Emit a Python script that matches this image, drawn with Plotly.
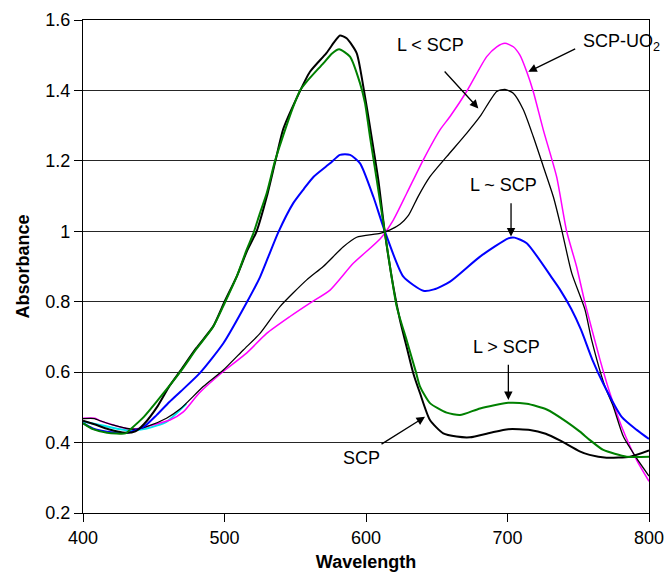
import plotly.graph_objects as go

# ---- data ----
wl_scp = [400, 408, 418, 430, 437, 443, 453, 461, 469, 480, 492, 500, 509, 516, 522.7, 530, 536, 541.5,
          551, 560.4, 572, 578, 581.6, 586.3, 593.4, 598.1, 602.8, 608.7, 613.4, 619.3, 624, 628.7, 633.4,
          638.2, 645.2, 654.6, 664, 673.5, 688, 700.6, 715.9, 727, 737, 751, 758, 770, 786.6, 800]
abs_scp = [0.462, 0.452, 0.438, 0.428, 0.432, 0.452, 0.505, 0.56, 0.605, 0.668, 0.73, 0.80, 0.875, 0.945, 1.0,
           1.1, 1.2, 1.29, 1.378, 1.453, 1.506, 1.54, 1.556, 1.548, 1.506, 1.411, 1.297, 1.146, 0.994,
           0.843, 0.748, 0.672, 0.597, 0.54, 0.464, 0.426, 0.417, 0.415, 0.428, 0.438, 0.436, 0.425, 0.406,
           0.375, 0.365, 0.357, 0.36, 0.378]

wl_lgt = [400, 407, 417, 430, 433, 443, 453, 469, 480, 492, 500, 508.6, 515.6, 520.4, 525, 529.8, 535.7, 540.4,
          548.6, 553.4, 558.1, 569.8, 576, 581, 588.7, 595.8, 599.3, 602.8, 607.6, 613.4, 621.7, 628.7, 635.3,
          638.2, 645.2, 657, 666.4, 680.6, 700.6, 713.6, 727.7, 741.8, 751.2, 758.3, 767.7, 784.2, 800]
abs_lgt = [0.455, 0.438, 0.428, 0.426, 0.436, 0.473, 0.521, 0.602, 0.665, 0.729, 0.795, 0.871, 0.947, 0.994,
           1.051, 1.108, 1.2, 1.259, 1.354, 1.4, 1.425, 1.477, 1.505, 1.517, 1.496, 1.42, 1.364, 1.269, 1.146,
           0.994, 0.786, 0.691, 0.6, 0.559, 0.512, 0.485, 0.478, 0.497, 0.513, 0.51, 0.494, 0.459, 0.431,
           0.407, 0.379, 0.36, 0.36]

wl_leq = [400, 407, 417, 431, 443, 452, 461, 469, 482.7, 499.2, 515.6, 525.1, 531, 538, 548.6, 556, 563, 574.6,
          581.6, 588.7, 595.8, 605.2, 613.4, 626.4, 640.5, 648, 659.4, 680.6, 700.6, 705, 713.6, 732.4, 737,
          745, 752, 760, 768, 780.7, 791.3, 800]
abs_leq = [0.455, 0.44, 0.431, 0.428, 0.445, 0.478, 0.515, 0.545, 0.598, 0.682, 0.797, 0.87, 0.928, 0.997,
           1.08, 1.12, 1.155, 1.193, 1.217, 1.217, 1.193, 1.098, 0.999, 0.871, 0.831, 0.835, 0.857, 0.928,
           0.98, 0.982, 0.966, 0.862, 0.835, 0.78, 0.72, 0.635, 0.565, 0.473, 0.436, 0.41]

wl_llt = [400, 408, 412, 421, 431, 438, 445, 459, 468.6, 485, 499.2, 513.3, 525.1, 539.2, 558.1, 569.8, 584,
          593.4, 609.9, 617, 624, 630, 637, 645.2, 657, 671.1, 680.6, 692.4, 698.2, 704.1, 711.2, 718.2, 725.3,
          732.4, 738.3, 745.4, 754.8, 759.5, 768.9, 774.8, 781.9, 791.3, 800]
abs_llt = [0.468, 0.468, 0.462, 0.45, 0.44, 0.438, 0.445, 0.469, 0.495, 0.559, 0.606, 0.663, 0.71, 0.786,
           0.862, 0.9, 0.956, 0.983, 0.994, 1.004, 1.02, 1.045, 1.1, 1.155, 1.212, 1.278, 1.326, 1.397, 1.403,
           1.392, 1.345, 1.269, 1.184, 1.098, 1.004, 0.881, 0.777, 0.691, 0.559, 0.502, 0.417, 0.355, 0.305]

wl_uo2 = [400, 408.5, 412, 421.4, 430.9, 437.9, 452, 461.5, 470.9, 482, 500.4, 515.6, 529.8, 546.3, 560.4,
          574.6, 591, 609.9, 619.3, 628.8, 640.5, 652.3, 659.4, 671.1, 685.3, 692.4, 698.2, 704.1, 708.8,
          713.6, 718.2, 725.3, 734.7, 741.8, 748.8, 754.8, 765.4, 772.4, 780.7, 791.3, 800]
abs_uo2 = [0.469, 0.469, 0.462, 0.45, 0.44, 0.439, 0.453, 0.464, 0.487, 0.54, 0.606, 0.654, 0.71, 0.758,
           0.796, 0.833, 0.909, 0.978, 1.032, 1.108, 1.203, 1.288, 1.326, 1.397, 1.496, 1.524, 1.534, 1.524,
           1.5, 1.453, 1.397, 1.288, 1.155, 1.0, 0.9, 0.796, 0.635, 0.54, 0.445, 0.35, 0.29]

wl_cyan = [400, 412, 426, 433, 445, 459, 473]
abs_cyan = [0.459, 0.45, 0.438, 0.434, 0.44, 0.459, 0.51]

y_ticks = [0.2, 0.4, 0.6, 0.8, 1.0, 1.2, 1.4, 1.6]
x_ticks = [400, 500, 600, 700, 800]

# labels: (text, x, y) and arrows: (tail_x, tail_y, head_x, head_y)
labels = [("SCP-UO<sub>2</sub>", 780.5, 1.535), ("L < SCP", 645.5, 1.53), ("L ~ SCP", 697.5, 1.132),
          ("L > SCP", 699.5, 0.672), ("SCP", 596.5, 0.355)]
arrows = [(748.9, 1.52, 714.7, 1.453), (654.6, 1.458, 679.4, 1.349), (702.5, 1.084, 702.5, 0.985),
          (700.6, 0.625, 700.6, 0.521), (609.9, 0.393, 641.7, 0.473)]

FONT = "Arial, Liberation Sans, sans-serif"

def line(color, width):
    return dict(color=color, width=width, shape="spline", smoothing=0.6)

fig = go.Figure()
fig.add_trace(go.Scatter(x=wl_cyan, y=abs_cyan, mode="lines", line=line("#00e5ee", 2)))
fig.add_trace(go.Scatter(x=wl_uo2, y=abs_uo2, mode="lines", line=line("#ff00ff", 1.5)))
fig.add_trace(go.Scatter(x=wl_llt, y=abs_llt, mode="lines", line=line("#000000", 1.3)))
fig.add_trace(go.Scatter(x=wl_leq, y=abs_leq, mode="lines", line=line("#0000ff", 2)))
fig.add_trace(go.Scatter(x=wl_scp, y=abs_scp, mode="lines", line=line("#000000", 2)))
fig.add_trace(go.Scatter(x=wl_lgt, y=abs_lgt, mode="lines", line=line("#008000", 2)))

for t, x, y in labels:
    fig.add_annotation(x=x, y=y, text=t, showarrow=False, xanchor="center", yanchor="middle",
                       font=dict(family=FONT, size=18, color="black"))
for tx, ty, hx, hy in arrows:
    fig.add_annotation(x=hx, y=hy, ax=tx, ay=ty, axref="x", ayref="y", text="", showarrow=True,
                       arrowhead=2, arrowsize=1.3, arrowwidth=1.3, arrowcolor="black")

fig.update_layout(
    width=666, height=574,
    margin=dict(l=83, r=17, t=20, b=61),
    paper_bgcolor="white", plot_bgcolor="white",
    showlegend=False,
    font=dict(family=FONT, size=18, color="black"),
)
fig.update_xaxes(range=[400, 800], tickvals=x_ticks, ticks="outside", ticklen=8, tickcolor="black",
                 showline=True, linecolor="black", linewidth=1.3, mirror=True, showgrid=False,
                 zeroline=False, automargin=False,
                 title=dict(text="<b>Wavelength</b>", font=dict(size=18), standoff=8))
fig.update_yaxes(range=[0.2, 1.6], tickvals=y_ticks, ticktext=["0.2", "0.4", "0.6", "0.8", "1", "1.2", "1.4", "1.6"],
                 ticks="outside", ticklen=8, tickcolor="black",
                 showline=True, linecolor="black", linewidth=1.3, mirror=True,
                 showgrid=True, gridcolor="#262626", gridwidth=1.2, zeroline=False, automargin=False,
                 title=dict(text="<b>Absorbance</b>", font=dict(size=18), standoff=10))

fig.write_html("out.html", config={"displayModeBar": False},
               post_script="document.body.style.margin='0px';document.body.style.overflow='hidden';")
